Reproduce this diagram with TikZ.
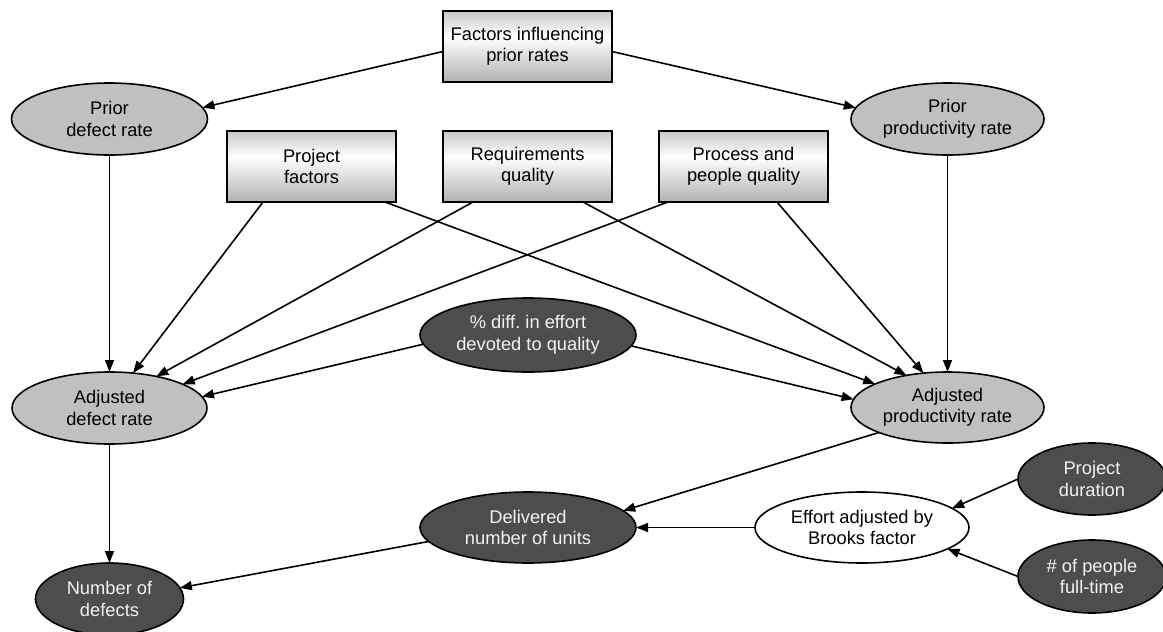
\documentclass[tikz,border=0pt]{standalone}
\usepackage{fontspec}
\setmainfont{Liberation Sans}
\usetikzlibrary{shapes.geometric,arrows.meta,calc}
\definecolor{lightfill}{HTML}{C0C0C0}
\definecolor{darkfill}{HTML}{4D4D4D}
\definecolor{boxtop}{HTML}{C8C8C8}
\definecolor{boxbot}{HTML}{B2B2B2}
\definecolor{paletext}{HTML}{F2F2F2}
\pgfdeclareverticalshading{boxshade}{100bp}{color(0bp)=(boxbot); color(25bp)=(boxbot); color(57bp)=(white); color(75bp)=(boxtop); color(100bp)=(boxtop)}
\begin{document}
\begin{tikzpicture}[x=1pt,y=-1pt,font=\fontsize{18.3}{21.5}\selectfont,
  box/.style={draw, line width=1.6pt, rectangle, minimum width=169pt, minimum height=71pt, inner sep=0pt, outer sep=0pt, shading=boxshade, align=center},
  lightell/.style={ellipse, draw, line width=1.6pt, fill=lightfill, inner sep=0pt, outer sep=0pt, align=center},
  darkell/.style={ellipse, draw, line width=1.6pt, fill=darkfill, text=paletext, inner sep=0pt, outer sep=0pt, align=center},
  whiteell/.style={ellipse, draw, line width=1.6pt, fill=white, inner sep=0pt, outer sep=0pt, align=center},
  arr/.style={-{Triangle[length=12pt,width=9pt]}, line width=1.6pt}]
\useasboundingbox (0,0) rectangle (1163,632);

\node[box] (fac) at (527.5,46.5) {Factors influencing\\prior rates};
\node[lightell, minimum width=196pt, minimum height=72pt] (pdr) at (109.5,119) {Prior\\defect rate};
\node[lightell, minimum width=193pt, minimum height=72pt] (ppr) at (947.5,119) {Prior\\productivity rate};
\node[box] (pf) at (311.5,166.5) {Project\\factors};
\node[box] (rq) at (527.5,166.5) {Requirements\\quality};
\node[box] (pq) at (743.5,166.5) {Process and\\people quality};
\node[darkell, minimum width=216pt, minimum height=74pt] (pct) at (528,335) {\% diff.\ in effort\\devoted to quality};
\node[lightell, minimum width=195pt, minimum height=72pt] (adr) at (109.5,408) {Adjusted\\defect rate};
\node[lightell, minimum width=193pt, minimum height=71pt] (apr) at (947.5,407.5) {Adjusted\\productivity rate};
\node[darkell, minimum width=216pt, minimum height=71pt] (del) at (528,527.5) {Delivered\\number of units};
\node[whiteell, minimum width=214pt, minimum height=71pt] (eff) at (862,527.5) {Effort adjusted by\\Brooks factor};
\node[darkell, minimum width=148pt, minimum height=72pt] (nod) at (109.5,599) {Number of\\defects};
\node[darkell, minimum width=148pt, minimum height=72pt] (pd) at (1092,479) {Project\\duration};
\node[darkell, minimum width=148pt, minimum height=73pt] (ppl) at (1092,576.5) {\# of people\\full-time};

\draw[arr] ($(fac.west)+(0,5)$) -- (pdr.7.6);
\draw[arr] ($(fac.east)+(0,5)$) -- (ppr.173.2);
\draw[arr] (pdr.south) -- (adr.north);
\draw[arr] (ppr.south) -- (apr.north);
\draw[arr] ($(pf.south west)+(36,0)$) -- (adr.56.9);
\draw[arr] ($(rq.south west)+(30,0)$) -- (adr.34.7);
\draw[arr] ($(pq.south west)+(9,0)$) -- (adr.18.5);
\draw[arr] (pct.185.3) -- (adr.7.75);
\draw[arr] ($(pf.south west)+(158,0)$) -- (apr.162.5);
\draw[arr] ($(rq.south west)+(140,0)$) -- (apr.142.2);
\draw[arr] ($(pq.south west)+(118,0)$) -- (apr.125.7);
\draw[arr] (pct.354) -- (apr.175);
\draw[arr] (apr.200.6) -- (del.10.8);
\draw[arr] (eff.west) -- (del.east);
\draw[arr] (del.188.9) -- (nod.9.5);
\draw[arr] (adr.south) -- (nod.north);
\draw[arr] (pd.west) -- (eff.12.5);
\draw[arr] (ppl.west) -- (eff.346.6);
\end{tikzpicture}
\end{document}
